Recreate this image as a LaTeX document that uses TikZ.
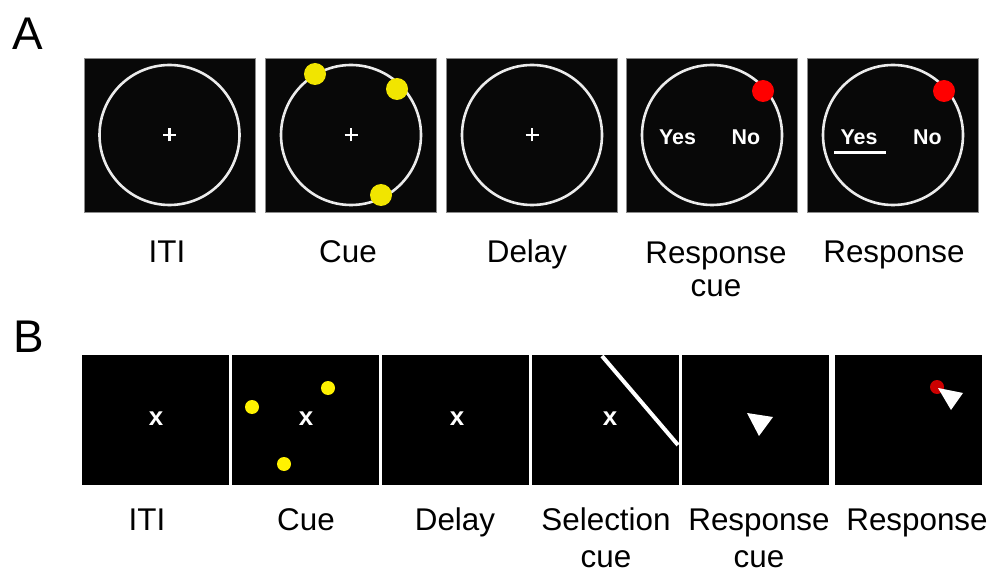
\documentclass[tikz,border=0pt]{standalone}
\usepackage{fontspec}
\setmainfont{Liberation Sans}
\begin{document}
\begin{tikzpicture}[x=1bp,y=-1bp,
  scrA/.style={draw=black!45,line width=0.8bp,fill=black!97,minimum width=171bp,minimum height=154bp,inner sep=0,outer sep=0},
  scrB/.style={fill=black,minimum width=147bp,minimum height=130bp,inner sep=0,outer sep=0},
  ring/.style={draw=white!92!black,line width=2.6bp},
  cross/.style={draw=white,line width=2.8bp},
  ydotA/.style={fill=yellow!88!olive},
  ydotB/.style={fill=yellow},
  lbl/.style={font=\fontsize{31.5}{35}\selectfont,inner sep=0,anchor=base,align=center},
  lblA/.style={lbl,font=\fontsize{31.5}{34}\selectfont},
  lblB/.style={lbl,font=\fontsize{31.5}{37}\selectfont},
  panel/.style={font=\fontsize{46}{50}\selectfont,inner sep=0,anchor=base},
  yn/.style={font=\fontsize{21.5}{24}\selectfont\bfseries,text=white,inner sep=0},
  xm/.style={font=\fontsize{26}{28}\selectfont\bfseries,text=white,inner sep=0}]
\useasboundingbox (0,0) rectangle (993,572);

% ---------- Panel A ----------
\node[panel] (pA) at (28,50) {A};
\foreach \n/\x in {1/169.5,2/351,3/532,4/712,5/893}{
  \node[scrA] (a\n) at (\x,135) {};
  \draw[ring] (a\n.center) circle[radius=70];
}
\foreach \n in {1,2,3}{
  \draw[cross] ([xshift=-6.5bp]a\n.center) -- ([xshift=6.5bp]a\n.center);
  \draw[cross] ([yshift=-6.5bp]a\n.center) -- ([yshift=6.5bp]a\n.center);
}
\fill[ydotA] (315,74) circle[radius=11];
\fill[ydotA] (397,89) circle[radius=11];
\fill[ydotA] (381,195) circle[radius=11];
\fill[red] (763,91) circle[radius=11];
\node[yn] (y4) at (677.5,137) {Yes};
\node[yn] (n4) at (746,137) {No};
\fill[red] (944,91) circle[radius=11];
\node[yn] (y5) at (859,137) {Yes};
\node[yn] (n5) at (927.5,137) {No};
\draw[white,line width=3bp] (834,153) -- (886,153);

\node[lblA] (lA1) at (167,263) {ITI};
\node[lblA] (lA2) at (348,263) {Cue};
\node[lblA] (lA3) at (527,263) {Delay};
\node[lblA] (lA4) at (716,297) {Response\\cue};
\node[lblA] (lA5) at (894,263) {Response};

% ---------- Panel B ----------
\node[panel] (pB) at (29,352) {B};
\foreach \n/\x in {1/155.5,2/305.5,3/455.5,4/605,5/755.5,6/908.5}{
  \node[scrB] (b\n) at (\x,420) {};
}
\node[xm] (x1) at (156,419) {x};
\node[xm] (x2) at (306,419) {x};
\node[xm] (x3) at (457,419) {x};
\node[xm] (x4) at (610,419) {x};
\fill[ydotB] (252,407) circle[radius=7];
\fill[ydotB] (328,388) circle[radius=7];
\fill[ydotB] (284,464) circle[radius=7];
\draw[white,line width=4bp] (602,356) -- (678,445);
\fill[white] (747,413) -- (773,417) -- (759,436) -- cycle;
\fill[red!80!black] (937,387) circle[radius=7];
\fill[white] (938,388) -- (963,393) -- (951,410) -- cycle;

\node[lblB] (lB1) at (147,530) {ITI};
\node[lblB] (lB2) at (306,530) {Cue};
\node[lblB] (lB3) at (455,530) {Delay};
\node[lblB] (lB4) at (606,567) {Selection\\cue};
\node[lblB] (lB5) at (759,567) {Response\\cue};
\node[lblB] (lB6) at (917,530) {Response};
\end{tikzpicture}
\end{document}
